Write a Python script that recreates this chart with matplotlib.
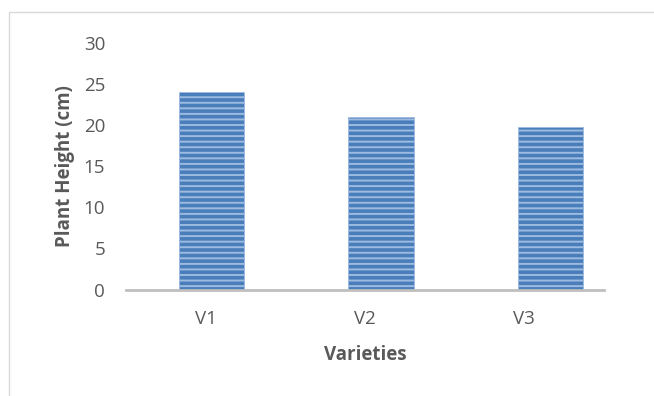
import matplotlib.pyplot as plt
from matplotlib.patches import Rectangle

# Plant height per variety
varieties = ['V1', 'V2', 'V3']
plant_height = [24.0, 21.0, 19.8]
y_ticks = [0, 5, 10, 15, 20, 25, 30]

plt.rcParams['font.family'] = ['Open Sans', 'DejaVu Sans']
plt.rcParams['hatch.linewidth'] = 1.4
plt.rcParams['hatch.color'] = '#d3e2f4'

fig = plt.figure(figsize=(6.54, 3.96), dpi=100)
ax = fig.add_axes([0.1927, 0.2689, 0.7308, 0.6225])

# light frame around the chart area
fig.patches.append(Rectangle((9 / 654, -0.1), 1.2, 1 - 12 / 396 + 0.1,
                             transform=fig.transFigure, fill=False,
                             edgecolor='#d9d9d9', linewidth=1.0))

# bars sit a little to the right of their category ticks
bar_step = 1.063
bar_shift = 0.038
positions = [i * bar_step + bar_shift for i in range(len(varieties))]
ax.bar(positions, plant_height, width=0.41, color='#4a7ebb',
       edgecolor='#9dbbe0', linewidth=0.6, hatch='---', zorder=2)

ax.set_xlim(-0.5, 2.5)
ax.set_ylim(0, 30)
ax.set_xticks(range(len(varieties)))
ax.set_xticklabels(varieties)
ax.set_yticks(y_ticks)

for side in ['top', 'right', 'left']:
    ax.spines[side].set_visible(False)
ax.spines['bottom'].set_color('#bfbfbf')
ax.spines['bottom'].set_linewidth(2.0)
ax.spines['bottom'].set_zorder(3)

ax.tick_params(axis='both', length=0, labelsize=13.5, colors='#595959')
ax.tick_params(axis='y', pad=15)
ax.tick_params(axis='x', pad=15)

ax.set_xlabel('Varieties', fontsize=13.5, fontweight='bold', color='#595959', labelpad=12)
ax.set_ylabel('Plant Height (cm)', fontsize=13.5, fontweight='bold', color='#595959', labelpad=6)

fig.savefig('out.png', dpi=100)
